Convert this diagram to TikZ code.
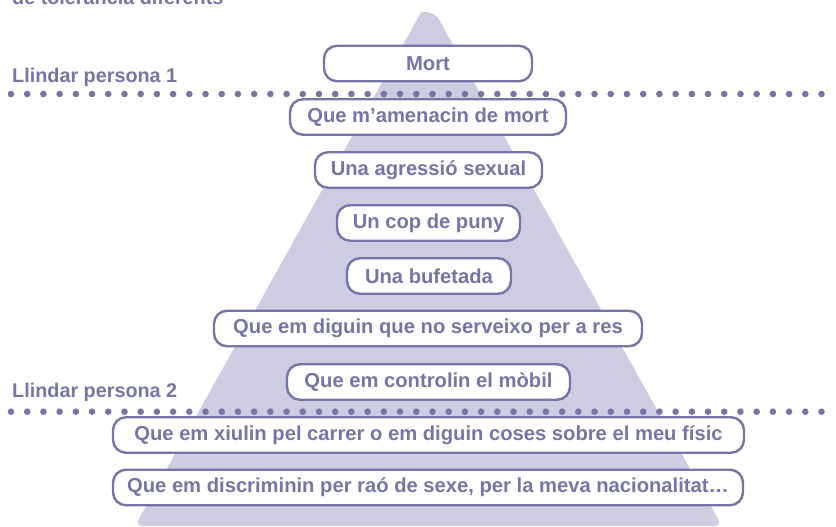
\documentclass[tikz,border=0pt]{standalone}
\usepackage{fontspec}
\setmainfont{Liberation Sans}

\definecolor{lila}{RGB}{118,117,168}
\definecolor{lilaclar}{RGB}{205,204,224}

\tikzset{
  caixa/.style={draw=lila,line width=2.4pt,fill=white,rounded corners=13pt,
    minimum height=35.5pt,inner sep=0pt,text=lila,
    font=\bfseries\fontsize{20.2}{24}\selectfont},
  llindar/.style={anchor=base west,inner sep=0pt,text=lila,
    font=\bfseries\fontsize{19.8}{24}\selectfont}
}

\begin{document}
\begin{tikzpicture}[x=1pt,y=-1pt]
\useasboundingbox (0,0) rectangle (836,527);

% piramide
\fill[lilaclar] (416.9,19.8) .. controls (421.8,11.1) and (434.2,11.1) .. (439.1,19.8)
  [rounded corners=8pt] -- (722,526) -- (135,526) -- cycle;

\node[llindar] (titol) at (12,5) {de tolerància diferents};
\node[llindar] (llindar1) at (12,82) {Llindar persona 1};
\node[llindar] (llindar2) at (12,397) {Llindar persona 2};

\node[caixa,minimum width=208pt] (mort) at (428,63.5) {Mort};
\node[caixa,minimum width=276pt] (amenaca) at (428,117) {Que m’amenacin de mort};
\node[caixa,minimum width=227pt] (agressio) at (428.5,170) {Una agressió sexual};
\node[caixa,minimum width=183pt] (cop) at (428.5,223) {Un cop de puny};
\node[caixa,minimum width=164pt] (bufetada) at (429,276) {Una bufetada};
\node[caixa,minimum width=428pt] (diguin) at (428,328.5) {Que em diguin que no serveixo per a res};
\node[caixa,minimum width=283pt] (mobil) at (428.5,382) {Que em controlin el mòbil};
\node[caixa,minimum width=631pt] (xiulin) at (428.5,435) {Que em xiulin pel carrer o em diguin coses sobre el meu físic};
\node[caixa,minimum width=630pt] (discrimina) at (428,487.5) {Que em discriminin per raó de sexe, per la meva nacionalitat…};

% linies de punts
\foreach \i in {0,...,50} {
  \fill[lila] (11+\i*16.21,94) circle (3.3);
  \fill[lila] (11+\i*16.21,411.7) circle (3.3);
}
\end{tikzpicture}
\end{document}
